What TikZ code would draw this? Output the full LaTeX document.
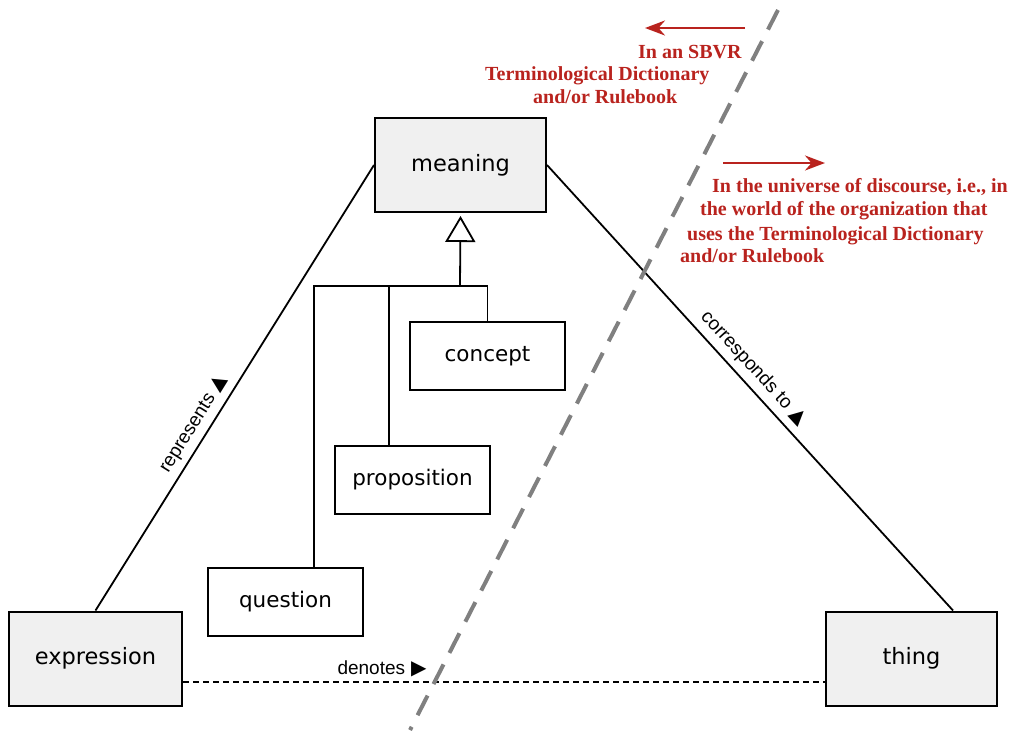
\documentclass[tikz,border=0pt]{standalone}
\usepackage{fontspec}
\setmainfont{DejaVu Sans}
\newfontfamily\labelfont{Liberation Sans}
\newfontfamily\notefont{Liberation Serif}
\newfontfamily\symbfont{DejaVu Sans}
\usetikzlibrary{arrows.meta,positioning,calc}
\definecolor{notered}{RGB}{185,35,30}
\definecolor{boxgray}{RGB}{240,240,240}
\newcommand{\dirmark}[1]{\hspace{6pt}{\symbfont\fontsize{20}{20}\selectfont #1}}
\tikzset{
  classbox/.style = {draw, line width=2pt, minimum width=155pt, minimum height=68pt,
    inner sep=0pt, font=\fontsize{21.5}{26}\selectfont},
  outerbox/.style = {classbox, fill=boxgray, minimum width=171pt, minimum height=94pt,
    font=\fontsize{22.5}{27}\selectfont},
  assoc/.style = {line width=1.8pt},
  rolelabel/.style = {font=\labelfont\fontsize{19}{22}\selectfont, inner sep=6pt},
  notetext/.style = {text=notered, font=\notefont\bfseries\fontsize{20}{24}\selectfont,
    anchor=base west, inner sep=0pt},
  notearrow/.style = {-{Stealth[length=20pt,width=15pt]}, notered, line width=2.5pt},
}

\begin{document}
\begin{tikzpicture}[x=1pt,y=-1pt]
\useasboundingbox (0,0) rectangle (1014,734);

% Nodes
\node[outerbox] (meaning) at (460.5,165) {\raisebox{-2pt}{meaning}};
\node[outerbox, minimum width=173pt] (expression) at (95.5,658.5) {\raisebox{-2pt}{expression}};
\node[outerbox] (thing) at (911.5,658.5) {\raisebox{-2pt}{thing}};
\node[classbox] (concept) at (487.5,356) {\raisebox{-2pt}{concept}};
\node[classbox] (proposition) at (412.5,479.5) {\raisebox{-2pt}{proposition}};
\node[classbox] (question) at (285.5,602) {\raisebox{-2pt}{question}};

% Generalization
\coordinate (fork) at (460,286);
\draw[assoc, -{Triangle[open, length=26pt, width=30pt, line width=1.8pt]}] (fork) -- ([yshift=-3pt]meaning.south);
\draw[assoc] (concept.north) |- (fork);
\draw[assoc] ([xshift=-23.5pt]proposition.north) |- (fork);
\draw[assoc] ([xshift=28.5pt]question.north) |- (fork);

% Associations
\draw[assoc] (expression.north) -- (meaning.west)
  node[rolelabel, pos=0.40, anchor=south, rotate=58.1] {represents\dirmark{▲}};
\draw[assoc] (meaning.east) -- ([xshift=41.5pt]thing.north)
  node[rolelabel, pos=0.48, anchor=south, rotate=-47.5] {corresponds to\dirmark{▲}};
\draw[line width=1.3pt, dash pattern=on 6pt off 4pt] ([yshift=-23.5pt]expression.east) -- ([yshift=-23.5pt]thing.west)
  node[rolelabel, pos=0.31, anchor=south, inner sep=4pt] {denotes\dirmark{▶}};

% Notes
\coordinate (leftFrom) at (745,28);
\coordinate (leftTo) at (645,28);
\coordinate (rightFrom) at (723,163);
\coordinate (rightTo) at (825,163);
\draw[notearrow] (leftFrom) -- (leftTo);
\draw[notearrow] (rightFrom) -- (rightTo);

\node[notetext] (sbvrA) at (638,58) {In an SBVR};
\node[notetext] (sbvrB) at (485,80.5) {Terminological Dictionary};
\node[notetext] (sbvrC) at (533,103.5) {and/or Rulebook};

\node[notetext] (worldA) at (712,192) {In the universe of discourse, i.e., in};
\node[notetext] (worldB) at (700,215.5) {the world of the organization that};
\node[notetext] (worldC) at (687,240) {uses the Terminological Dictionary};
\node[notetext] (worldD) at (680,262.5) {and/or Rulebook};

% Separator
\coordinate (sepTop) at (778,10);
\coordinate (sepBottom) at (410,730);
\draw[line width=4pt, black!50, dash pattern=on 22pt off 13pt] (sepTop) -- (sepBottom);

\end{tikzpicture}
\end{document}
